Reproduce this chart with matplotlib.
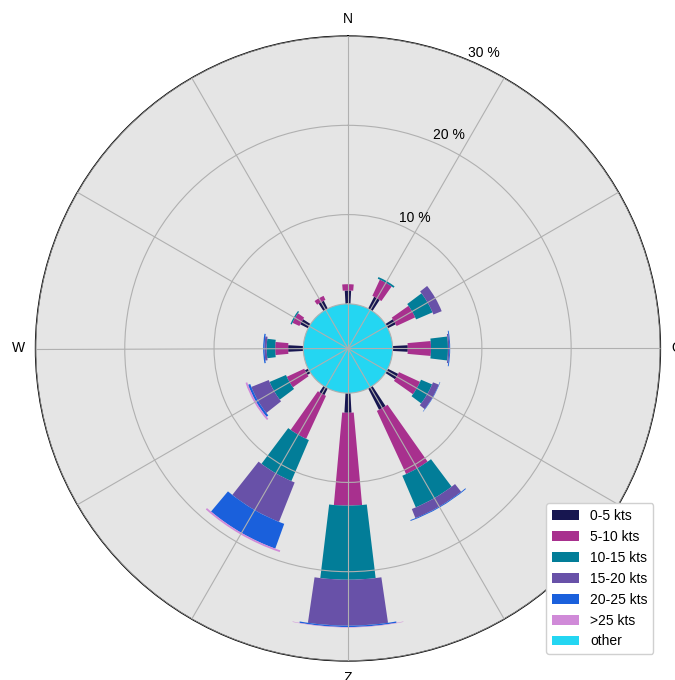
import numpy as np
import matplotlib
matplotlib.use("Agg")
import matplotlib.pyplot as plt
from matplotlib.patches import Patch

plt.rcParams['font.family'] = ['Liberation Sans', 'DejaVu Sans']
plt.rcParams['font.size'] = 10

# Direction of each bar (degrees clockwise from north)
directions = [0, 30, 60, 90, 120, 150, 180, 210, 240, 270, 300, 330]

# Frequency (%) per speed class and direction
kts_0_5 = [1.5, 1.5, 1.0, 1.7, 1.3, 2.7, 2.2, 0.85, 0.4, 1.7, 1.0, 1.0]
kts_5_10 = [0.7, 2.0, 2.3, 2.6, 2.6, 7.8, 10.4, 5.3, 2.15, 1.45, 0.85, 0.5]
kts_10_15 = [0.0, 0.2, 2.0, 1.9, 1.35, 3.85, 8.3, 5.0, 2.0, 0.95, 0.15, 0.0]
kts_15_20 = [0.0, 0.0, 1.0, 0.15, 0.7, 1.1, 5.15, 4.75, 2.1, 0.25, 0.0, 0.0]
kts_20_25 = [0.0, 0.0, 0.0, 0.1, 0.05, 0.1, 0.15, 2.95, 0.25, 0.15, 0.0, 0.0]
kts_25_up = [0.0, 0.0, 0.0, 0.0, 0.0, 0.0, 0.05, 0.2, 0.2, 0.0, 0.0, 0.0]
other = 5.0

series = [kts_0_5, kts_5_10, kts_10_15, kts_15_20, kts_20_25, kts_25_up]
labels = ['0-5 kts', '5-10 kts', '10-15 kts', '15-20 kts', '20-25 kts', '>25 kts']
colors = ['#171650', '#a8308e', '#027d98', '#6851a8', '#1a60dc', '#d08ad8']
widths = [0.11, 0.18, 0.24, 0.29, 0.35, 0.40]
other_color = '#24d6f2'

radial_ticks = [10, 20, 30]
radial_labels = ['10 %', '20 %', '30 %']
compass_labels = ['N', '', '', 'O', '', '', 'Z', '', '', 'W', '', '']

fig = plt.figure(figsize=(6.75, 6.8), dpi=100)
ax = fig.add_axes([0.052, 0.028, 0.927, 0.919], projection='polar')
ax.set_theta_zero_location('N')
ax.set_theta_direction(-1)
ax.set_facecolor('#e5e5e5')

theta = np.deg2rad(directions)
bottom = np.full(len(directions), other)
for vals, lab, col, w in zip(series, labels, colors, widths):
    vals = np.asarray(vals)
    ax.bar(theta, vals, width=w, bottom=bottom, color=col, linewidth=0, zorder=1)
    bottom = bottom + vals

# calm circle
ax.bar(0, other, width=2 * np.pi, bottom=0, color=other_color, linewidth=0, zorder=1)

ax.set_ylim(0, other + max(radial_ticks))
ax.set_yticks([other] + [other + t for t in radial_ticks])
ax.set_yticklabels([''] + radial_labels)
ax.set_rlabel_position(22.5)
ax.set_xticks(np.deg2rad(directions))
ax.set_xticklabels(compass_labels)
ax.set_axisbelow(False)
ax.grid(True, color='#b0b0b0', linewidth=0.8)
ax.spines['polar'].set_color('black')
ax.spines['polar'].set_linewidth(1.0)
ax.tick_params(axis='both', colors='black', labelsize=10)
ax.tick_params(axis='x', pad=1.5)

handles = [Patch(facecolor=c, label=l) for c, l in zip(colors, labels)]
handles.append(Patch(facecolor=other_color, label='other'))
ax.legend(handles=handles, loc='lower right', fontsize=10, framealpha=1,
          edgecolor='#d0d0d0')

fig.savefig('out.png', dpi=100)
